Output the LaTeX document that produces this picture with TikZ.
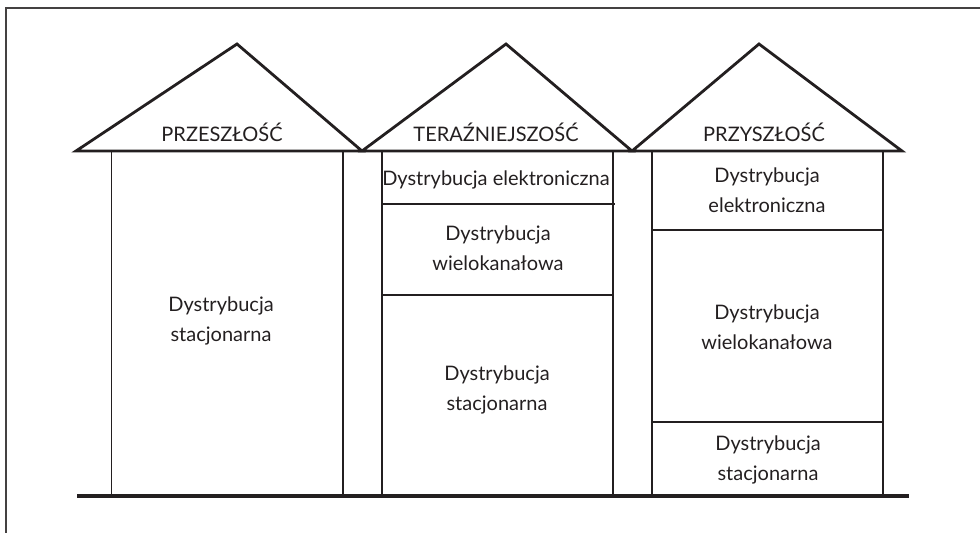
\documentclass[tikz,border=0pt]{standalone}
\usepackage{fontspec}
\setmainfont{Lato}
\definecolor{ink}{HTML}{231F20}
\begin{document}
\begin{tikzpicture}[x=1pt,y=-1pt,
 roof/.style={draw=ink,line width=2.8pt,line join=miter},
 wall/.style={draw=ink,line width=1.4pt},
 divider/.style={draw=ink,line width=2.4pt},
 ground/.style={draw=ink,line width=3.4pt},
 frame/.style={draw=ink!85,line width=1.6pt},
 label/.style={text=ink,font=\fontsize{20}{29.5}\selectfont,align=center,inner sep=0pt}]
\useasboundingbox (0,0) rectangle (980,533);
% frame
\coordinate (fTL) at (6,8);
\coordinate (fTR) at (980,8);
\coordinate (fBL) at (6,533);
\draw[frame] (fTR) -- (fTL) -- (fBL);
% roofs
\coordinate (r1l) at (76,151);
\coordinate (r1a) at (237,44);
\coordinate (r12) at (362,151);
\coordinate (r2a) at (506,44);
\coordinate (r23) at (632,151);
\coordinate (r3a) at (759,44);
\coordinate (r3r) at (902,151);
\draw[roof] (r1l) -- (r1a) -- (r12) -- cycle;
\draw[roof] (r12) -- (r2a) -- (r23) -- cycle;
\draw[roof] (r23) -- (r3a) -- (r3r) -- cycle;
% walls
\foreach \n/\x in {a/111.5,b/343,c/382,d/613,e/652,f/883}{
  \coordinate (w\n t) at (\x,151);
  \coordinate (w\n b) at (\x,496);
  \draw[wall] (w\n t) -- (w\n b);
}
% dividers
\coordinate (d1l) at (382,204); \coordinate (d1r) at (615,204);
\coordinate (d2l) at (382,295); \coordinate (d2r) at (613,295);
\coordinate (d3l) at (652,230); \coordinate (d3r) at (883,230);
\coordinate (d4l) at (652,422); \coordinate (d4r) at (883,422);
\draw[divider] (d1l) -- (d1r);
\draw[divider] (d2l) -- (d2r);
\draw[divider] (d3l) -- (d3r);
\draw[divider] (d4l) -- (d4r);
% ground
\coordinate (gl) at (77,496);
\coordinate (gr) at (909,496);
\draw[ground] (gl) -- (gr);
% titles
\node[label,anchor=base] (t1) at (222,141) {PRZESZŁOŚĆ};
\node[label,anchor=base] (t2) at (496,141) {TERAŹNIEJSZOŚĆ};
\node[label,anchor=base] (t3) at (764,141) {PRZYSZŁOŚĆ};
% house texts
\node[label] (h1s) at (221,321) {Dystrybucja\\stacjonarna};
\node[label,anchor=base] (h2e) at (496,185) {Dystrybucja elektroniczna};
\node[label] (h2w) at (498,248) {Dystrybucja\\wielokanałowa};
\node[label] (h2s) at (497,390) {Dystrybucja\\stacjonarna};
\node[label] (h3e) at (767,190) {Dystrybucja\\elektroniczna};
\node[label] (h3w) at (767,327) {Dystrybucja\\wielokanałowa};
\node[label] (h3s) at (768,460) {Dystrybucja\\stacjonarna};
\end{tikzpicture}
\end{document}
